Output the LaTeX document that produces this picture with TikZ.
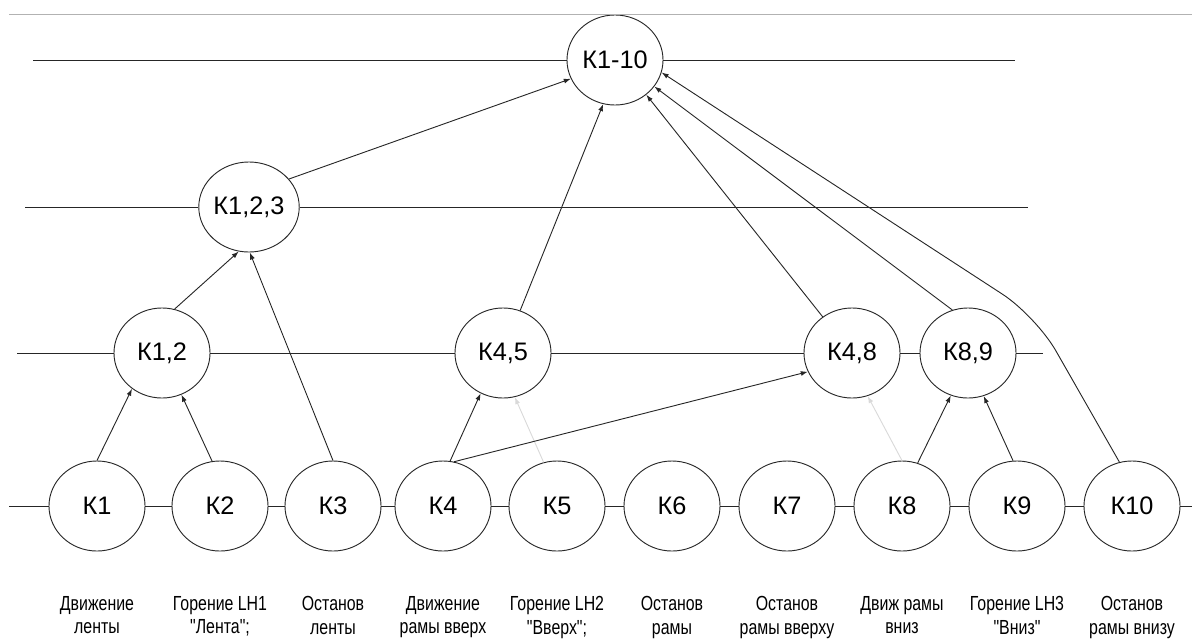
\documentclass[tikz,border=0pt]{standalone}
\usepackage{fontspec}
\setmainfont{Liberation Sans}
\newfontfamily\narrowsans[FakeStretch=0.78]{Liberation Sans}
\usetikzlibrary{positioning,shapes.geometric,arrows.meta}

\begin{document}
\begin{tikzpicture}[
x=0.025cm,
y=-0.025cm,
line width=0.65pt,
draw=black!85,
keynode/.style={
draw,
ellipse,
fill=white,
inner sep=0pt,
minimum width=2.4cm,
minimum height=2.25cm,
font=\fontsize{18}{21}\selectfont
},
caption/.style={
align=center,
inner sep=2pt,
font=\narrowsans\fontsize{14.5}{16.5}\selectfont
},
link/.style={-{Latex[length=5pt,width=3.5pt]}},
faintlink/.style={link,draw=black!15}
]

\useasboundingbox (0,0) rectangle (1192,639);

%%%%%%%%%%%%%%%%%%%%%%%%%%%%%%%%%%%%%%%%%%%%%%%%%%%%%%%%%%%%%%
% LEVEL 1
%%%%%%%%%%%%%%%%%%%%%%%%%%%%%%%%%%%%%%%%%%%%%%%%%%%%%%%%%%%%%%

\node[keynode](k110) at (615,60) {К1-10};

%%%%%%%%%%%%%%%%%%%%%%%%%%%%%%%%%%%%%%%%%%%%%%%%%%%%%%%%%%%%%%
% LEVEL 2
%%%%%%%%%%%%%%%%%%%%%%%%%%%%%%%%%%%%%%%%%%%%%%%%%%%%%%%%%%%%%%

\node[keynode](k123) at (249,207) {К1,2,3};

%%%%%%%%%%%%%%%%%%%%%%%%%%%%%%%%%%%%%%%%%%%%%%%%%%%%%%%%%%%%%%
% LEVEL 3
%%%%%%%%%%%%%%%%%%%%%%%%%%%%%%%%%%%%%%%%%%%%%%%%%%%%%%%%%%%%%%

\node[keynode](k12) at (162,353) {К1,2};
\node[keynode](k45) at (503,353) {К4,5};
\node[keynode](k48) at (852,353) {К4,8};
\node[keynode](k89) at (968,353) {К8,9};

%%%%%%%%%%%%%%%%%%%%%%%%%%%%%%%%%%%%%%%%%%%%%%%%%%%%%%%%%%%%%%
% BOTTOM LEVEL
%%%%%%%%%%%%%%%%%%%%%%%%%%%%%%%%%%%%%%%%%%%%%%%%%%%%%%%%%%%%%%

\node[keynode](k1) at (97,506) {К1};
\node[keynode](k2) at (220,506) {К2};
\node[keynode](k3) at (333,506) {К3};
\node[keynode](k4) at (443,506) {К4};
\node[keynode](k5) at (557,506) {К5};
\node[keynode](k6) at (672,506) {К6};
\node[keynode](k7) at (787,506) {К7};
\node[keynode](k8) at (902,506) {К8};
\node[keynode](k9) at (1017,506) {К9};
\node[keynode](k10) at (1132,506) {К10};

%%%%%%%%%%%%%%%%%%%%%%%%%%%%%%%%%%%%%%%%%%%%%%%%%%%%%%%%%%%%%%
% CAPTIONS
%%%%%%%%%%%%%%%%%%%%%%%%%%%%%%%%%%%%%%%%%%%%%%%%%%%%%%%%%%%%%%

\node[caption,below=1.05cm of k1](cap1) {Движение\\ленты};
\node[caption,below=1.05cm of k2](cap2) {Горение LH1\\"Лента";};
\node[caption,below=1.05cm of k3](cap3) {Останов\\ленты};
\node[caption,below=1.05cm of k4](cap4) {Движение\\рамы вверх};
\node[caption,below=1.05cm of k5](cap5) {Горение LH2\\"Вверх";};
\node[caption,below=1.05cm of k6](cap6) {Останов\\рамы};
\node[caption,below=1.05cm of k7](cap7) {Останов\\рамы вверху};
\node[caption,below=1.05cm of k8](cap8) {Движ рамы\\вниз};
\node[caption,below=1.05cm of k9](cap9) {Горение LH3\\"Вниз"};
\node[caption,below=1.05cm of k10](cap10) {Останов\\рамы внизу};

%%%%%%%%%%%%%%%%%%%%%%%%%%%%%%%%%%%%%%%%%%%%%%%%%%%%%%%%%%%%%%
% LEVEL LINES
%%%%%%%%%%%%%%%%%%%%%%%%%%%%%%%%%%%%%%%%%%%%%%%%%%%%%%%%%%%%%%

\draw[black!30] (9,14) -- (1192,14);

\coordinate (l1w) at (33,60);
\coordinate (l1e) at (1015,60);
\coordinate (l2w) at (25,207);
\coordinate (l2e) at (1028,207);
\coordinate (l3w) at (17,353);
\coordinate (l3e) at (1043,353);
\coordinate (l4w) at (9,506);
\coordinate (l4e) at (1192,506);

\draw (l1w) -- (k110) -- (l1e);
\draw (l2w) -- (k123) -- (l2e);
\draw (l3w) -- (k12) -- (k45) -- (k48) -- (k89) -- (l3e);
\draw (l4w) -- (k1) -- (k2) -- (k3) -- (k4) -- (k5) -- (k6) -- (k7)
  -- (k8) -- (k9) -- (k10) -- (l4e);

%%%%%%%%%%%%%%%%%%%%%%%%%%%%%%%%%%%%%%%%%%%%%%%%%%%%%%%%%%%%%%
% CONNECTIONS
%%%%%%%%%%%%%%%%%%%%%%%%%%%%%%%%%%%%%%%%%%%%%%%%%%%%%%%%%%%%%%

\draw[link] (k1.north) -- (k12.-130);
\draw[link] (k2.100) -- (k12.-65);
\draw[link] (k3.north) -- (k123.-89);
\draw[link] (k12.74) -- (k123.-103);
\draw[link] (k123.35) -- (k110.-157);

\draw[link] (k4.81) -- (k45.-119);
\draw[faintlink] (k5.107) -- (k45.-75);
\draw[link] (k4.76) -- (k48.-157);
\draw[faintlink] (k8.north) -- (k48.-70);
\draw[link] (k8.70) -- (k89.-112);
\draw[link] (k9.95) -- (k89.-70);

\draw[link] (k45.68) -- (k110.-105);
\draw[link] (k48.129) -- (k110.-48);
\draw[link] (k89.110) -- (k110.-34);

\coordinate (bend) at (1036,316);
\draw[link,rounded corners=1cm] (k10.106) -- (bend) -- (k110.-15);

\end{tikzpicture}
\end{document}
